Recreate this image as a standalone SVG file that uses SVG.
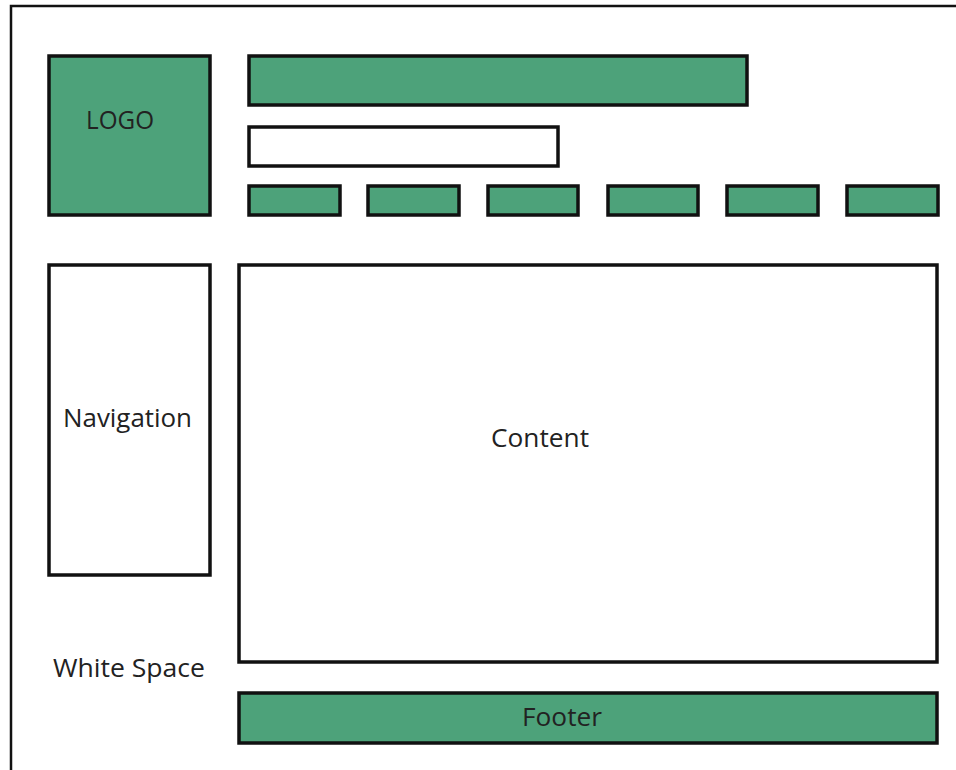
<svg xmlns="http://www.w3.org/2000/svg" width="956" height="770" viewBox="0 0 956 770">
<style>
.g{fill:#4da27a;stroke:#111;stroke-width:3.5}
.w{fill:#fff;stroke:#111;stroke-width:3.5}
.t{font-family:"Open Sans","Noto Sans",sans-serif;font-size:26px;fill:#222}
</style>
<rect width="956" height="770" fill="#fff"/>
<g id="frame"><path d="M11 770 V6 H956" fill="none" stroke="#111" stroke-width="2.5"/></g>
<g id="logo"><rect class="g" x="49" y="56" width="161" height="159"/><text class="t" x="86" y="129" fill="#111" textLength="68" lengthAdjust="spacingAndGlyphs">LOGO</text></g>
<g id="title"><rect class="g" x="249" y="56" width="498" height="49"/></g>
<g id="search"><rect class="w" x="249" y="127" width="309" height="39"/></g>
<g id="menu">
<rect class="g" x="249" y="186" width="91" height="29"/>
<rect class="g" x="368" y="186" width="91" height="29"/>
<rect class="g" x="488" y="186" width="90" height="29"/>
<rect class="g" x="608" y="186" width="90" height="29"/>
<rect class="g" x="727" y="186" width="91" height="29"/>
<rect class="g" x="847" y="186" width="91" height="29"/>
</g>
<g id="navigation"><rect class="w" x="49" y="265" width="161" height="310"/><text class="t" x="63" y="427" textLength="129" lengthAdjust="spacingAndGlyphs">Navigation</text></g>
<g id="content"><rect class="w" x="239" y="265" width="698" height="397"/><text class="t" x="491" y="447" textLength="98" lengthAdjust="spacingAndGlyphs">Content</text></g>
<g id="footer"><rect class="g" x="239" y="693" width="698" height="50"/><text class="t" x="522" y="726" fill="#111" textLength="80" lengthAdjust="spacingAndGlyphs">Footer</text></g>
<g id="whitespace"><text class="t" x="53" y="677" textLength="152" lengthAdjust="spacingAndGlyphs">White Space</text></g>
<g id="connectors"/>
</svg>
